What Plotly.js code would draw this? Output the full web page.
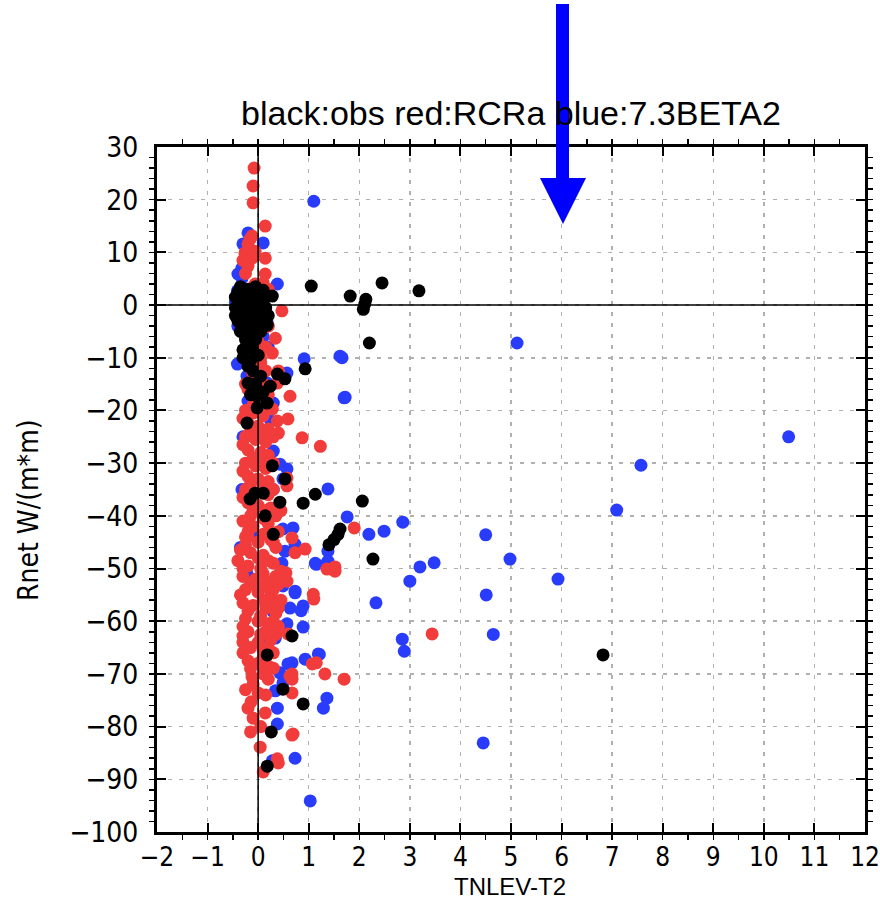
<!DOCTYPE html>
<html>
<head>
<meta charset="utf-8">
<script src="https://cdn.plot.ly/plotly-3.0.1.min.js"></script>
<style>
  html, body { margin: 0; padding: 0; background: #ffffff; }
  #plot { width: 880px; height: 902px; }
</style>
</head>
<body>
<div id="plot"></div>
<script>
// Observations (black)
const obsX = [-0.4, -0.3, -0.2, -0.1, 0.0, 0.1, -0.45, -0.35, -0.25, -0.15, -0.05, 0.05, 0.15,
  -0.4, -0.3, -0.2, -0.1, 0.0, 0.1, -0.35, -0.25, -0.15, -0.05, 0.05, 0.12, -0.3, 0.28, 0.18,
  -0.45, -0.35, -0.25, -0.15, -0.05, 0.05, 0.15, -0.45, -0.35, -0.05, 0.1, 0.2, -0.25, -0.3,
  -0.15, -0.1, -0.05, 0.05, 0.1, -0.15, -0.3, 0.0, 0.1,
  -0.12, -0.22, -0.1, 0.0, -0.2, -0.3, -0.2, 0.38, 0.53, 0.24, -0.02, 0.18, -0.02, -0.22, 0.93,
  0.53, 0.28, -0.06, 0.1, -0.16, 0.43, 0.89, 1.13, 2.06, 0.3, 0.14, 1.4, 1.5, 1.58, 1.62,
  0.67, 0.18, 0.49, 0.89, 0.26, 0.18, 2.27, 6.82, 1.05, 1.82, 2.13, 2.11, 2.08, 2.45, 3.18, 2.2];
const obsY = [2.5, 1.0, 3.0, 2.0, 1.5, 2.8, -0.5, -1.5, -0.5, 0.0, -1.0, 0.5, -0.5,
  -3.0, -2.5, -3.5, -2.0, -3.0, -2.5, -5.0, -4.5, -5.5, -4.0, -5.0, -1.5, 0.5, 1.7, -3.8,
  1.5, 3.5, 2.0, 1.0, 3.5, 2.5, 1.5, -2.0, -3.5, -6.5, -4.0, -2.0, -6.5, -8.5,
  -10.5, -12.5, -15.0, -13.5, -16.5, -17.0, -1.0, -0.5, 0.0,
  -5.3, -7.2, -8.5, -9.5, -11.6, -10.0, -14.8, -13.1, -14.0, -15.4, -17.3, -18.6, -19.5, -22.4, -12.1,
  -33.0, -30.5, -35.7, -35.7, -36.8, -37.4, -37.6, -35.9, -37.2, -43.5, -40.0, -45.5, -44.5, -43.5, -42.5,
  -62.8, -66.4, -72.9, -75.7, -81.0, -87.5, -48.2, -66.4, 3.6, 1.7, 1.1, 0.2, -0.8, 4.2, 2.7, -7.2];

// RCRa run (red)
const rcrX = [-0.08, -0.1, -0.1, 0.14, -0.12, -0.2, -0.26, -0.12, 0.14, -0.2, 0.14, 0.1, -0.06, -0.02,
  0.47, -0.06, -0.16, -0.3, -0.25, 0.2, 0.1,
  0.34, 0.28, 0.4, 0.38, 0.63, 0.28, 0.38, 0.59, 0.4, 0.87, 1.23, 0.57, 0.57,
  0.2, 0.15, 0.05, -0.1, 0.1, -0.2, 0.0, 0.2,
  -0.15, 0.0, -0.2, 0.05, -0.15, 0.15, -0.25, 0.05, -0.1, 0.15,
  -0.25, -0.1, 0.1, -0.2, 0.0, 0.2, -0.25, -0.05, 0.15, -0.2, 0.05, 0.2, -0.25, -0.05, 0.15,
  -0.2, 0.0, 0.2, -0.25, 0.05, 0.2, -0.2, 0.0, 0.25, -0.15, 0.1,
  -0.3, -0.15, 0.05, 0.3, -0.3, -0.1, 0.1, 0.3, -0.3, -0.15, 0.1, 0.3, -0.3, -0.1, 0.15, 0.35,
  -0.3, -0.1, 0.2, 0.4, -0.25, 0.0, 0.25, -0.35, -0.15, 0.1, 0.35, -0.4, -0.2, 0.05, 0.3, 0.45,
  -0.3, -0.05, 0.2, 0.4, -0.25, 0.0, 0.25, 0.45, -0.3, -0.1, 0.15, 0.35, -0.25, 0.0, 0.2, 0.4,
  -0.2, 0.05, 0.25, -0.15, 0.1, 0.3, -0.2, 0.0, 0.2, -0.12, -0.1, 0.2, 0.67, 0.67, -0.14, 0.0,
  -0.2, 0.1, 0.3, -0.25, 0.0, 0.2, -0.3, 0.1, 0.35, -0.15, 0.1, 0.3, -0.35, 0.1, 0.3, -0.2, 0.05, 0.3,
  -0.3, 0.15, 0.35, -0.3, 0.0, 0.2, -0.3, 0.1, -0.15, 0.1, -0.25, 0.15, -0.2, 0.05, -0.15,
  0.14, -0.1, 0.67, 0.04, 0.38, 0.4, 0.1,
  0.93, 0.73, 0.67, 1.09, 1.1, 1.9, 1.46, 1.52, 1.36, 1.52, 1.07, 1.15, 0.67, 1.32, 1.7,
  0.59, 0.4, 0.57, 0.3, 3.44, 0.69, 0.63, 0.55, 0.45, -0.3, -0.2];
const rcrY = [26.0, 22.6, 19.4, 15.0, 13.1, 11.6, 9.9, 8.9, 8.9, 7.4, 5.9, 4.2, 4.0, 2.3,
  -1.1, 10.2, 12.5, 8.5, 6.0, 3.0, -1.5,
  -6.3, -9.1, -12.5, -14.8, -17.3, -19.7, -22.0, -21.6, -24.3, -25.2, -26.8, -34.3, -32.8,
  -4.0, -8.0, -11.0, -13.0, -15.0, -16.0, -18.0, -17.0,
  -6.0, -7.0, -9.0, -10.0, -12.0, -12.5, -15.0, -16.0, -19.0, -19.0,
  -20.0, -20.5, -21.0, -22.5, -23.0, -23.5, -25.0, -25.5, -26.0, -27.5, -28.0, -28.5, -30.0, -30.5, -31.0,
  -32.5, -33.0, -33.5, -35.0, -35.5, -36.0, -37.5, -38.0, -38.5, -40.0, -40.5,
  -21.5, -24.0, -24.5, -25.0, -26.5, -29.0, -29.5, -30.0, -31.5, -34.0, -34.0, -35.0, -36.5, -39.0, -39.0, -40.0,
  -41.0, -42.0, -41.5, -43.0, -44.0, -45.0, -44.5, -46.5, -47.0, -47.5, -46.0, -48.5, -49.5, -50.0, -49.0, -50.5,
  -51.5, -52.0, -52.5, -53.0, -54.0, -54.5, -55.0, -56.0, -56.5, -57.0, -57.5, -58.5, -59.5, -60.0, -60.5, -61.0,
  -62.0, -62.5, -63.5, -65.0, -65.5, -66.0, -67.5, -68.0, -68.5, -70.6, -72.0, -71.0, -71.0, -73.6, -75.3, -73.6,
  -43.0, -43.5, -45.0, -45.5, -48.0, -48.5, -50.0, -51.0, -51.5, -53.0, -53.5, -54.0, -55.0, -56.0, -57.0, -58.0, -59.0, -60.0,
  -61.0, -62.0, -62.5, -64.0, -64.0, -65.0, -66.0, -67.0, -69.0, -70.0, -73.0, -74.0, -76.5, -80.0, -81.0,
  -77.4, -78.4, -81.6, -83.9, -86.1, -86.9, -88.6,
  -46.3, -47.0, -44.2, -54.9, -55.8, -42.3, -50.1, -50.5, -50.1, -49.7, -68.1, -67.9, -70.0, -70.0, -71.0,
  -62.4, -57.5, -52.4, -68.9, -62.4, -81.4, -70.4, -50.8, -39.0, -62.8, -44.0];

// 7.3BETA2 run (blue)
const betaX = [1.1, -0.2, 0.1, -0.3, -0.32, -0.4, -0.32, 0.38, -0.41, -0.4, 0.18, -0.45, -0.35, 0.1, 0.2,
  -0.41, -0.22, -0.2, 0.3, 0.1, 0.3, 0.43, 0.57, 0.49, 0.18, 0.57, 0.91, 1.62, 1.72, 1.38, -0.36, 0.25,
  0.69, 0.49, 0.73, 0.53, 0.47, 0.49, 0.73, 0.63, 0.89, 0.28, 0.57, 0.89, 0.24, 0.34, 0.14, 1.19, 0.93,
  0.59, 0.43, 1.76, 1.13, 1.38, 1.38, 0.0, 0.73, 0.85, 1.21, 0.67, 1.36, 1.29, 0.73, 1.03, 0.34, 0.49,
  0.38, 0.38, 0.28, 1.15, 1.36,
  10.49, 7.57, 7.09, 5.12, 4.5, 4.98, 5.93, 4.51, 4.65, 2.85, 2.89, 4.45, 2.49, 2.86, 3.2, 3.48, 3.0,
  2.19, 1.66, 1.7, 2.33, -0.32, 0.3, -0.22, -0.3, -0.35];
const betaY = [19.7, 13.7, 11.8, 11.6, 7.0, 5.9, 5.1, 4.0, 2.7, -4.0, -3.4, 0.5, -1.0, -6.0, -8.0,
  -11.2, -13.5, -18.2, -18.6, -24.5, -27.7, -30.2, -31.1, -33.0, -14.8, -12.9, -10.2, -9.7, -17.5, -34.9, -4.6, -22.0,
  -42.3, -42.5, -45.4, -46.7, -49.0, -53.3, -54.3, -57.5, -57.1, -58.0, -60.5, -61.1, -61.3, -63.2, -64.3, -66.2, -67.2,
  -68.1, -69.8, -40.2, -49.0, -46.7, -48.6, -43.8, -54.6, -58.0, -66.3, -67.9, -74.6, -76.5, -86.0, -94.1, -73.2, -71.7,
  -76.5, -79.5, -86.5, -49.2, -49.0,
  -25.0, -30.4, -38.9, -7.2, -43.6, -48.2, -52.0, -55.0, -62.5, -63.4, -65.7, -83.1, -42.9, -41.2, -49.7, -48.9, -52.4,
  -43.5, -10.0, -17.6, -56.5, -35.0, -35.0, -51.0, -25.0, -46.0];

const xTicks = [-2, -1, 0, 1, 2, 3, 4, 5, 6, 7, 8, 9, 10, 11, 12];
const yTicks = [30, 20, 10, 0, -10, -20, -30, -40, -50, -60, -70, -80, -90, -100];

const NARROW = '"Liberation Sans Narrow", "DejaVu Sans Condensed", sans-serif';
const WIDE = '"Liberation Sans", Arial, sans-serif';
const MS = 13;

function series(x, y, color) {
  return {
    type: 'scatter', mode: 'markers', x: x, y: y,
    marker: { color: color, size: MS, line: { width: 0 } },
    hoverinfo: 'skip', showlegend: false, cliponaxis: true
  };
}

const traces = [
  series(betaX, betaY, '#2a3cfb'),
  series(rcrX, rcrY, '#f23c3c'),
  series(obsX, obsY, '#000000')
];

const minus = v => v < 0 ? '\u2212' + (-v) : String(v);

const axisCommon = {
  showline: true, linecolor: '#000', linewidth: 3, mirror: 'allticks',
  ticks: 'inside', ticklen: 9, tickwidth: 2, tickcolor: '#000',
  showgrid: true, gridcolor: '#b0b0b0', gridwidth: 1.5, griddash: '4px,7px',
  zeroline: false, fixedrange: true, ticklabeloverflow: 'allow',
  tickfont: { family: NARROW, size: 28, color: '#000' },
};

// plot-box px -> paper coords for the pointer overlay and axis captions
const box = { l: 157, r: 865, t: 147, b: 832 };
const px = v => (v - box.l) / (box.r - box.l);
const py = v => (box.b - v) / (box.b - box.t);

const layout = {
  width: 880, height: 902,
  margin: { l: box.l, r: 880 - box.r, t: box.t, b: 902 - box.b },
  paper_bgcolor: '#fff', plot_bgcolor: '#fff',
  hovermode: false, showlegend: false,
  title: {
    text: 'black:obs red:RCRa blue:7.3BETA2',
    font: { family: WIDE, size: 34, color: '#000' },
    x: 0.5, xref: 'paper', xanchor: 'center',
    y: 1 - 113 / 902, yref: 'container', yanchor: 'middle'
  },
  xaxis: Object.assign({}, axisCommon, {
    range: [-2, 12], tickmode: 'array', tickvals: xTicks, ticktext: xTicks.map(minus),
    minor: { dtick: 0.5, ticklen: 5, tickwidth: 1.5, tickcolor: '#000', showgrid: false },
    ticklabelstandoff: 0,
    tickfont: { family: NARROW, size: 26, color: '#000' }
  }),
  yaxis: Object.assign({}, axisCommon, {
    range: [-100, 30], tickmode: 'array', tickvals: yTicks, ticktext: yTicks.map(minus),
    minor: { dtick: 2, ticklen: 5, tickwidth: 1.5, tickcolor: '#000', showgrid: false },
    ticklabelstandoff: 10
  }),
  annotations: [
    { text: 'TNLEV-T2', xref: 'paper', yref: 'paper', x: px(510), y: py(886),
      xanchor: 'center', yanchor: 'middle', showarrow: false,
      font: { family: WIDE, size: 24, color: '#000' } },
    { text: 'Rnet W/(m*m)', xref: 'paper', yref: 'paper', x: px(28), y: py(510),
      xanchor: 'center', yanchor: 'middle', showarrow: false, textangle: -90,
      font: { family: NARROW, size: 28, color: '#000' } }
  ],
  shapes: [
    // reference lines through the origin, drawn over the markers
    { type: 'line', xref: 'x', yref: 'paper', x0: 0, x1: 0, y0: 0, y1: 1, layer: 'above', line: { color: '#000', width: 1.5 } },
    { type: 'line', xref: 'paper', yref: 'y', x0: 0, x1: 1, y0: 0, y1: 0, layer: 'above', line: { color: '#000', width: 1.5 } },
    // pointer arrow: shaft and head
    { type: 'rect', xref: 'paper', yref: 'paper', x0: px(556), x1: px(569), y0: py(182), y1: py(4),
      fillcolor: '#0000ff', line: { width: 0 }, layer: 'above' },
    { type: 'path', xref: 'paper', yref: 'paper',
      path: `M ${px(540)} ${py(178)} L ${px(586)} ${py(178)} L ${px(563)} ${py(224)} Z`,
      fillcolor: '#0000ff', line: { width: 0 }, layer: 'above' }
  ]
};

Plotly.newPlot('plot', traces, layout, { displayModeBar: false, staticPlot: true });
</script>
</body>
</html>
